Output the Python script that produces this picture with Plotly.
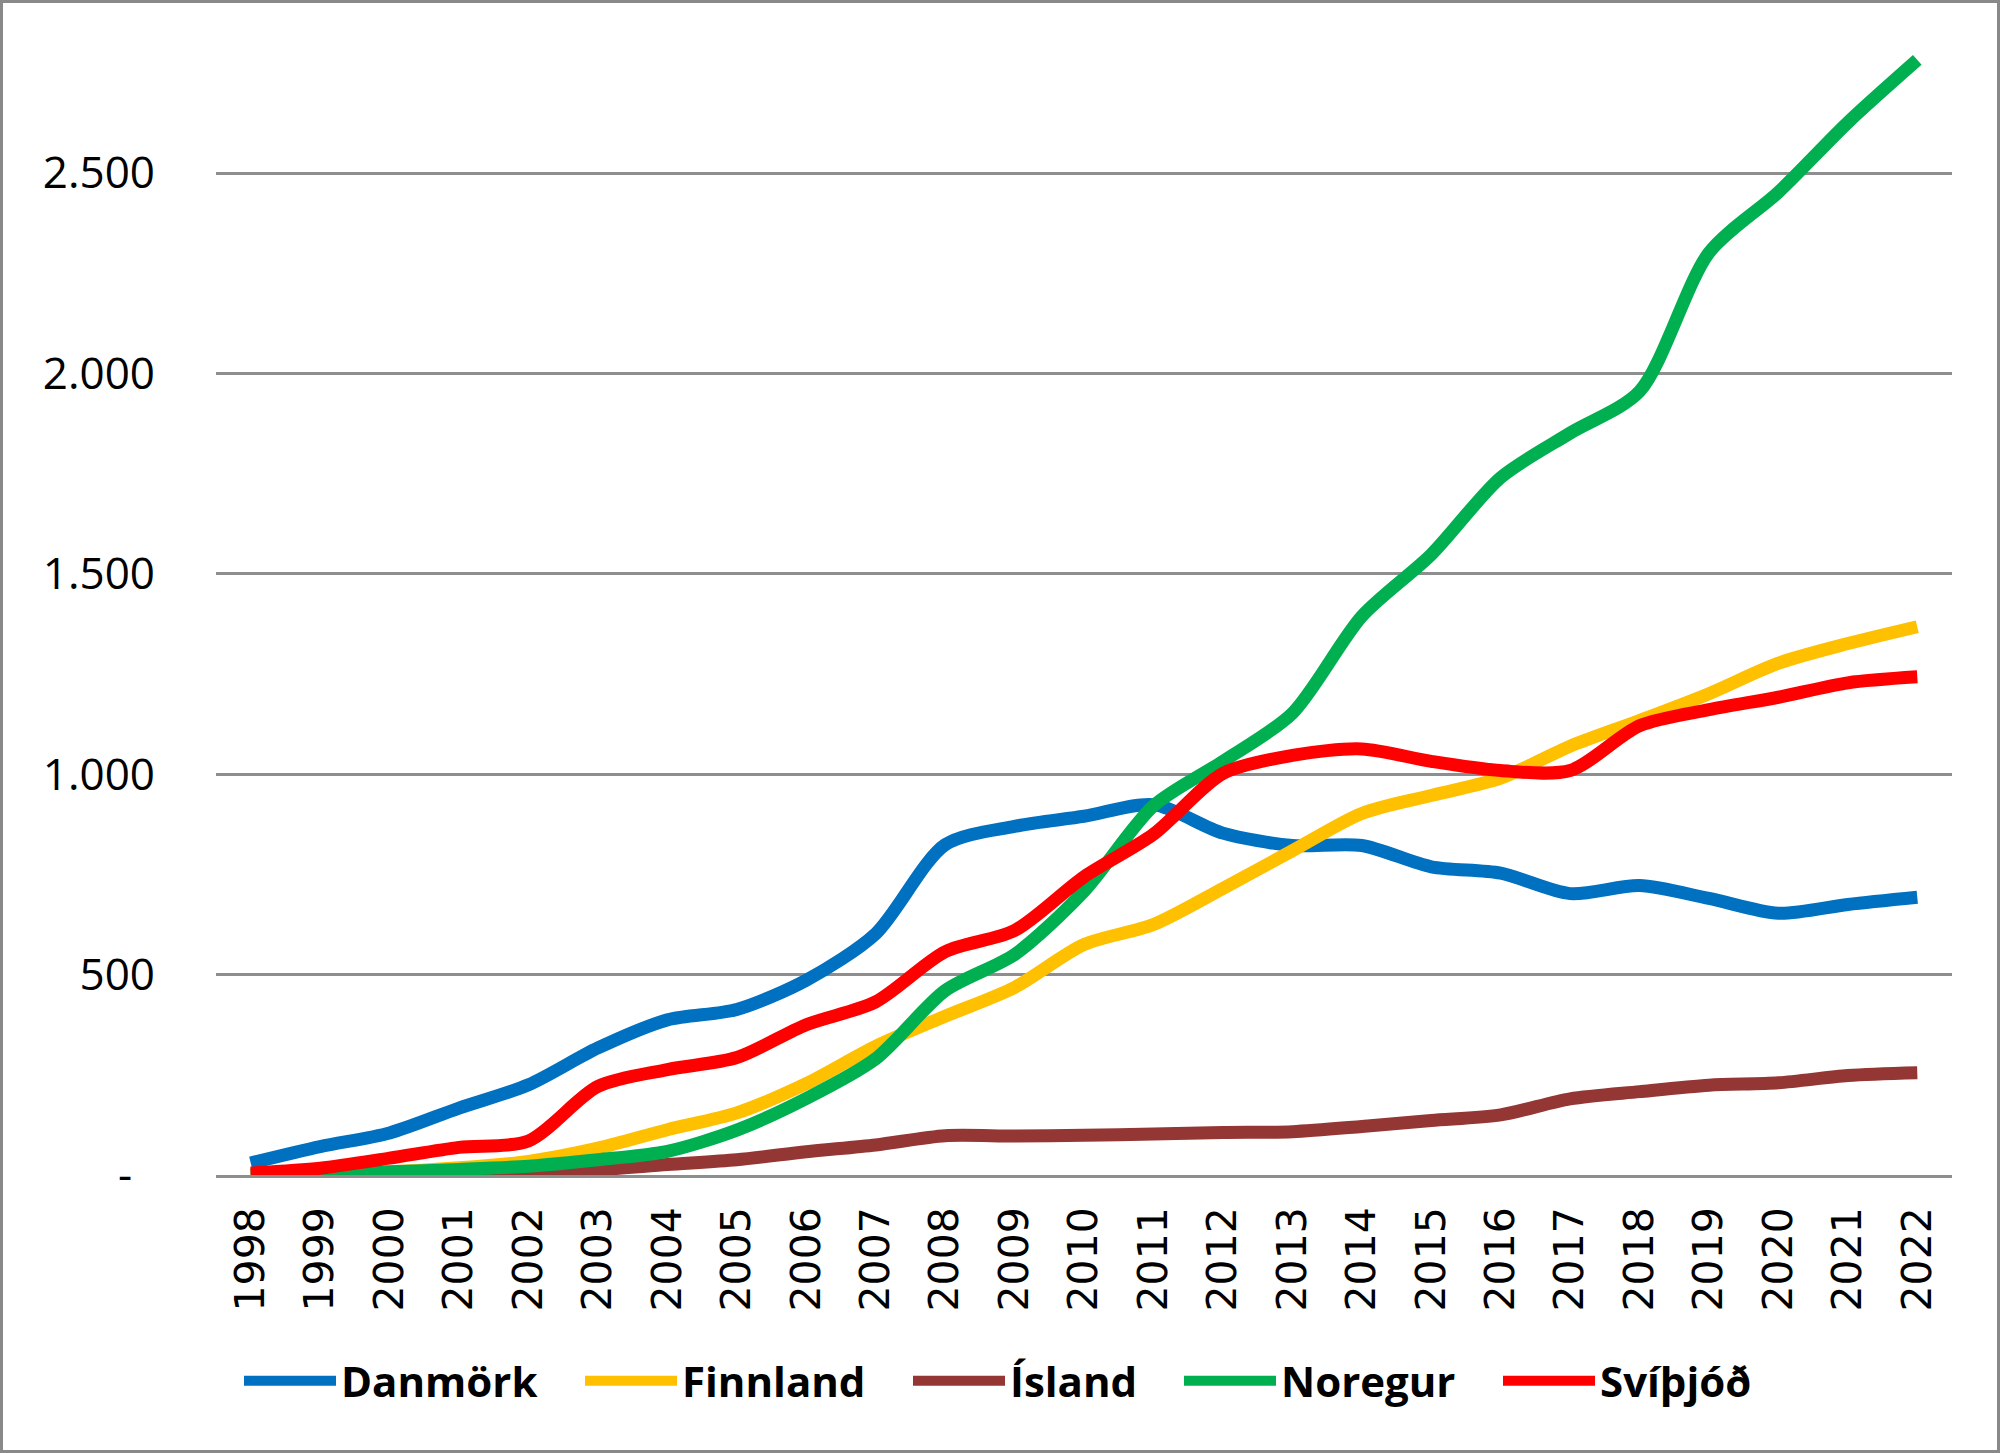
import plotly.graph_objects as go

years = [str(y) for y in range(1998, 2023)]

danmork = [30, 71, 105, 167, 225, 317, 387, 413, 486, 602, 824, 870, 895, 924, 853,
           822, 822, 769, 753, 702, 722, 690, 653, 675, 693]
finnland = [2, 4, 8, 18, 34, 67, 113, 155, 228, 321, 396, 468, 575, 625, 715,
            809, 902, 947, 990, 1070, 1134, 1201, 1277, 1326, 1368]
island = [0, 0, 1, 2, 5, 13, 26, 38, 58, 75, 98, 97, 99, 102, 106,
          108, 121, 136, 150, 190, 208, 224, 230, 248, 255]
noregur = [0, 3, 8, 14, 22, 38, 59, 112, 191, 290, 460, 550, 708, 921, 1032,
           1152, 1394, 1548, 1740, 1851, 1955, 2301, 2452, 2626, 2782]
svithjod = [5, 17, 42, 69, 85, 221, 263, 293, 375, 432, 557, 610, 744, 850, 1002,
            1047, 1063, 1032, 1009, 1009, 1121, 1161, 1192, 1228, 1243]

series_names = ["Danmörk", "Finnland", "Ísland", "Noregur", "Svíþjóð"]
series_values = [danmork, finnland, island, noregur, svithjod]
series_colors = ["#0070C0", "#FFC000", "#943634", "#00B050", "#FF0000"]
legend_widths = [234, 221, 164, 212, 160]

y_tickvals = [0, 500, 1000, 1500, 2000, 2500]
y_ticktext = ["-\u00a0\u00a0", "500", "1.000", "1.500", "2.000", "2.500"]

W, H = 2000, 1453
ML, MR, MT, MB = 216, 48, 30, 278
PW, PH = W - ML - MR, H - MT - MB

fig = go.Figure()
for name, vals, color, lw in zip(series_names, series_values, series_colors, legend_widths):
    fig.add_trace(go.Scatter(
        x=years, y=vals, mode="lines", name=name, legendwidth=lw,
        line=dict(color=color, width=13, shape="spline", smoothing=0.8),
    ))

grid = "#8E8E8E"
fig.update_layout(
    width=W, height=H,
    margin=dict(l=ML, r=MR, t=MT, b=MB, autoexpand=False),
    paper_bgcolor="white", plot_bgcolor="white",
    showlegend=True,
    legend=dict(
        orientation="h", x=(239 - ML) / PW, xanchor="left",
        y=(MT + PH - 1381) / PH, yanchor="middle",
        font=dict(family="Open Sans", size=42, color="black", weight="bold"),
        itemwidth=92, bgcolor="rgba(0,0,0,0)",
    ),
    xaxis=dict(
        type="category", range=[-0.5, len(years) - 0.5],
        tickangle=-90, tickfont=dict(family="DejaVu Sans", size=41, color="black"),
        showgrid=False, showline=True, linecolor=grid, linewidth=2.5,
        ticks="", ticklabelstandoff=13, zeroline=False,
    ),
    yaxis=dict(
        range=[0, PH / 0.4008], tickvals=y_tickvals, ticktext=y_ticktext,
        tickfont=dict(family="Open Sans", size=44, color="black"),
        showgrid=True, gridcolor=grid, gridwidth=2.5, zeroline=False,
        showline=False, ticks="", ticklabelstandoff=60,
    ),
    shapes=[dict(
        type="rect", xref="paper", yref="paper",
        x0=(1.5 - ML) / PW, x1=(W - 1.5 - ML) / PW,
        y0=(MT + PH - (H - 1.5)) / PH, y1=(MT + PH - 1.5) / PH,
        line=dict(color="#898989", width=3), fillcolor="rgba(0,0,0,0)", layer="above",
    )],
)

fig.write_html(
    "out.html",
    config={"displayModeBar": False},
    post_script="document.body.style.margin='0';document.body.style.overflow='hidden';",
)
